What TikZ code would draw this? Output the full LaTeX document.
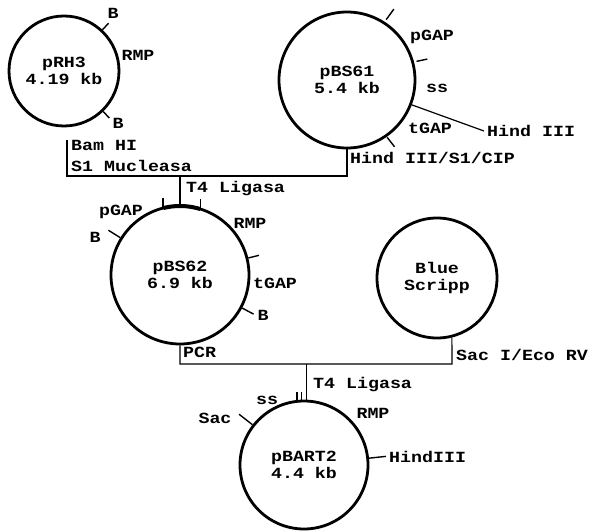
\documentclass[tikz,border=0pt]{standalone}
\usepackage{fontspec}
\newfontfamily\labfont[FakeStretch=1.18]{Liberation Mono}

\begin{document}
\begin{tikzpicture}[
  x=1pt, y=1pt,
  font=\labfont\bfseries\fontsize{15.5}{17}\selectfont,
  plasmid/.style={draw, circle, line width=2.8pt, align=center, inner sep=0pt},
  lbl/.style={inner sep=0pt},
  tick/.style={line width=1.4pt},
  link/.style={line width=1.2pt}
]
\useasboundingbox (0,0) rectangle (591,530);

% plasmids
\node[plasmid, minimum size=110pt] (rh3) at (64,459) {pRH3\\4.19 kb};
\node[plasmid, minimum size=136pt] (bs61) at (347,450) {pBS61\\5.4 kb};
\node[plasmid, minimum size=138pt] (bs62) at (180,255) {pBS62\\6.9 kb};
\node[plasmid, minimum size=120pt] (blue) at (437,252) {Blue\\Scripp};
\node[plasmid, minimum size=128pt] (bart2) at (304,65) {pBART2\\4.4 kb};

% pRH3
\draw[tick] (rh3.47) -- ++(47:9);
\draw[tick] (rh3.-46) -- ++(-46:9);
\node[lbl] (rh3b1) at (113,517) {B};
\node[lbl] (rh3rmp) at (138,475) {RMP};
\node[lbl] (rh3b2) at (118,407) {B};

% pBS61
\draw[tick] ([shift={(57:72)}]bs61.center) -- ++(54:13);
\draw[tick] ([shift={(15:72)}]bs61.center) -- ++(12:11);
\draw[tick] ([shift={(-55:70)}]bs61.center) -- ++(-52:12);
\node[lbl] (bs61pgap) at (432,493) {pGAP};
\node[lbl] (bs61ss) at (437,442) {ss};
\node[lbl] (bs61tgap) at (430,402) {tGAP};
\node[lbl, anchor=west] (hind) at (487,399) {Hind III};
\draw[link] (bs61.-21) -- ([xshift=-3pt]hind.west);

% pRH3 + pBS61 -> pBS62
\coordinate (rh3cut) at (67,390);
\coordinate (cut1) at (67,354);
\node[lbl, anchor=west] (bamhi) at (71,385) {Bam HI};
\node[lbl, anchor=west] (s1) at (71,364) {S1 Mucleasa};
\node[lbl, anchor=west] (hindcip) at (350,372) {Hind III/S1/CIP};
\draw[link] (rh3cut) -- (cut1) -| (bs61.south);
\draw[link] (bs62.north |- cut1) -- (bs62.north);
\node[lbl, anchor=west] (lig1) at (186,341) {T4 Ligasa};

% pBS62
\draw[line width=4pt] ([shift={(104:69)}]bs62.center) arc[start angle=104, end angle=73, radius=69];
\draw[tick] (bs62.104) -- ++(0,9);
\draw[tick] (bs62.73) -- ++(0,9);
\draw[tick] (bs62.148) -- ++(148:14);
\draw[tick] (bs62.14) -- ++(14:11);
\draw[tick] (bs62.-28) -- ++(-28:13);
\node[lbl] (bs62pgap) at (121,318) {pGAP};
\node[lbl] (bs62b1) at (95,293) {B};
\node[lbl] (bs62rmp) at (250,307) {RMP};
\node[lbl] (bs62tgap) at (275,247) {tGAP};
\node[lbl] (bs62b2) at (263,215) {B};

% pBS62 + Blue Scripp -> pBART2
\coordinate (pcrjoin) at (452,166);
\draw[link] (bs62.south) |- (pcrjoin) -- (blue.-76);
\node[lbl, anchor=west] (pcr) at (183,178) {PCR};
\node[lbl, anchor=west] (saceco) at (456,175) {Sac I/Eco RV};
\draw[link] (bart2.88 |- pcrjoin) -- (bart2.88);
\node[lbl, anchor=west] (lig2) at (313,145) {T4 Ligasa};

% pBART2
\draw[tick] (bart2.96) -- ++(0,8);
\draw[tick] (bart2.92) -- ++(0,8);
\draw[tick] (bart2.142) -- ++(142:17);
\draw[tick] (bart2.6) -- ++(6:17);
\node[lbl] (bart2ss) at (267,130) {ss};
\node[lbl] (bart2sac) at (215,112) {Sac};
\node[lbl] (bart2rmp) at (373,117) {RMP};
\node[lbl, anchor=west] (bart2hind) at (389,73) {HindIII};
\end{tikzpicture}
\end{document}
